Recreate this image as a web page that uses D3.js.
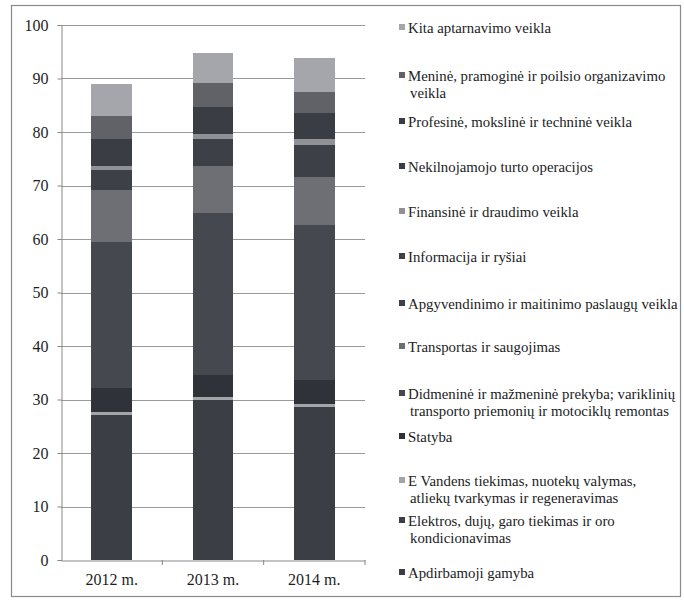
<!DOCTYPE html>
<html><head><meta charset="utf-8">
<script src="https://cdn.jsdelivr.net/npm/d3@7"></script>
<style>
html,body{margin:0;padding:0;background:#fff;}
svg{display:block;}
svg text{font-family:"Liberation Serif","Times New Roman","DejaVu Serif",serif !important;}
</style></head>
<body><svg id="c" width="684" height="601"></svg>
<script>
const years = ["2012 m.", "2013 m.", "2014 m."];
const seriesNames = [
  "Apdirbamoji gamyba",
  "Elektros, dujų, garo tiekimas ir oro kondicionavimas",
  "E Vandens tiekimas, nuotekų valymas, atliekų tvarkymas ir regeneravimas",
  "Statyba",
  "Didmeninė ir mažmeninė prekyba; variklinių transporto priemonių ir motociklų remontas",
  "Transportas ir saugojimas",
  "Apgyvendinimo ir maitinimo paslaugų veikla",
  "Informacija ir ryšiai",
  "Finansinė ir draudimo veikla",
  "Nekilnojamojo turto operacijos",
  "Profesinė, mokslinė ir techninė veikla",
  "Meninė, pramoginė ir poilsio organizavimo veikla",
  "Kita aptarnavimo veikla"
];
const legendLines = [
  ["Apdirbamoji gamyba"],
  ["Elektros, dujų, garo tiekimas ir oro", "kondicionavimas"],
  ["E Vandens tiekimas, nuotekų valymas,", "atliekų tvarkymas ir regeneravimas"],
  ["Statyba"],
  ["Didmeninė ir mažmeninė prekyba; variklinių", "transporto priemonių ir motociklų remontas"],
  ["Transportas ir saugojimas"],
  ["Apgyvendinimo ir maitinimo paslaugų veikla"],
  ["Informacija ir ryšiai"],
  ["Finansinė ir draudimo veikla"],
  ["Nekilnojamojo turto operacijos"],
  ["Profesinė, mokslinė ir techninė veikla"],
  ["Meninė, pramoginė ir poilsio organizavimo", "veikla"],
  ["Kita aptarnavimo veikla"]
];
// values per series for each year
const v2012 = [25.0, 2.1, 0.6, 4.4, 27.4, 9.7, 1.4, 2.3, 0.7, 2.5, 2.5, 4.4, 6.0];
const v2013 = [27.5, 2.4, 0.5, 4.2, 30.2, 8.8, 1.6, 3.5, 0.9, 2.5, 2.6, 4.4, 5.7];
const v2014 = [26.3, 2.3, 0.5, 4.5, 29.0, 9.0, 2.0, 4.0, 1.1, 2.4, 2.4, 4.0, 6.3];
const yTicks = [0, 10, 20, 30, 40, 50, 60, 70, 80, 90, 100];
const colors = ["#3c3e46", "#3c3e46", "#a3a5a9", "#303239", "#46484f", "#6d6f75",
                "#3e4048", "#3e4048", "#8f9196", "#3b3d45", "#3b3d45", "#606268", "#a4a6ab"];

const svg = d3.select("#c");
svg.append("rect").attr("x",11.5).attr("y",5.5).attr("width",669).attr("height",591)
  .attr("fill","#fff").attr("stroke","#8a8a8a").attr("stroke-width",1.2);

const x0 = 61, x1 = 365, yB = 560, yT = 25;
const x = d3.scaleBand().domain(years).range([x0, x1]).paddingInner(0.6).paddingOuter(0.3);
const y = d3.scaleLinear().domain([0, 100]).range([yB, yT]);

const rows = years.map((yr, i) => {
  const r = {year: yr};
  const arr = [v2012, v2013, v2014][i];
  seriesNames.forEach((s, j) => r[s] = arr[j]);
  return r;
});
const stacked = d3.stack().keys(seriesNames)(rows);

// gridlines
svg.append("g").selectAll("line").data(yTicks.filter(t => t > 0)).join("line")
  .attr("x1", x0).attr("x2", x1).attr("y1", d => Math.round(y(d))+0.5).attr("y2", d => Math.round(y(d))+0.5)
  .attr("stroke", "#9a9a9a").attr("stroke-width", 1);

// y axis
const ya = svg.append("g").attr("transform", `translate(${x0+0.5},0)`)
  .call(d3.axisLeft(y).tickValues(yTicks).tickSize(4).tickPadding(9));
ya.attr("font-family", null);
ya.select(".domain").attr("stroke", "#888");
ya.selectAll(".tick line").attr("stroke", "#888");
ya.selectAll("text").attr("font-size", 16).attr("fill", "#1e1e1e");

// x axis
const xa = svg.append("g").attr("transform", `translate(0,${yB+0.5})`)
  .call(d3.axisBottom(x).tickSize(0).tickPadding(13));
xa.attr("font-family", null);
xa.select(".domain").attr("stroke", "#888");
xa.selectAll("text").attr("font-size", 16).attr("fill", "#1e1e1e");
// category separators
const step = (x1 - x0) / years.length;
svg.append("g").selectAll("line").data(d3.range(1, years.length + 1)).join("line")
  .attr("x1", d => x0 + d * step).attr("x2", d => x0 + d * step)
  .attr("y1", yB).attr("y2", yB + 5).attr("stroke", "#888");

// bars
svg.append("g").attr("shape-rendering", "crispEdges").selectAll("g").data(stacked).join("g")
  .attr("fill", (d, i) => colors[i])
  .selectAll("rect").data(d => d).join("rect")
  .attr("x", d => x(d.data.year)).attr("width", x.bandwidth())
  .attr("y", d => y(d[1])).attr("height", d => y(d[0]) - y(d[1]));

// legend
const legendY = [573, 521, 481, 437, 394, 347, 304, 257, 212, 167, 122, 76, 28];
const lg = svg.append("g");
seriesNames.forEach((s, i) => {
  const yy = legendY[i];
  lg.append("rect").attr("x", 399).attr("y", yy - 4).attr("width", 6).attr("height", 6).attr("fill", colors[i]);
  legendLines[i].forEach((ln, k) => {
    lg.append("text").attr("x", k === 0 ? 408 : 410).attr("y", yy + k * 17).attr("dy", "0.35em")
      .attr("font-size", 14.8).attr("fill", "#222").text(ln);
  });
});
</script></body></html>
